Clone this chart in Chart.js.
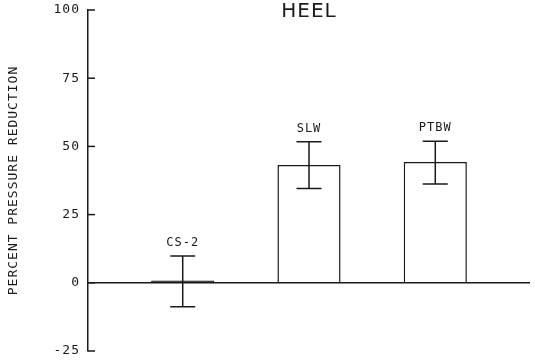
<!DOCTYPE html>
<html lang="en">
<head>
    <meta charset="UTF-8">
    <title>Heel - Percent Pressure Reduction</title>
    <script src="https://cdn.jsdelivr.net/npm/chart.js"></script>
    <style>
        html, body { margin: 0; padding: 0; background: #fff; }
        #wrap { width: 535px; height: 362px; }
    </style>
</head>
<body>
    <div id="wrap"><canvas id="heelChart"></canvas></div>

    <script>
        // Data
        const chartTitle = 'HEEL';
        const categories = ['CS-2', 'SLW', 'PTBW'];
        const slots = [1, 2, 3];
        const means = [0.8, 43.2, 44.3];
        const errLow = [-8.8, 34.6, 36.2];
        const errHigh = [9.8, 51.7, 51.9];
        const yTicks = [-25, 0, 25, 50, 75, 100];

        const INK = '#1a1a1a';
        const MONO = '"DejaVu Sans Mono", monospace';

        // letter spacing so the mono font looks like the old plotter lettering
        const spacingPlugin = {
            id: 'spacing',
            beforeLayout(chart) { chart.ctx.letterSpacing = '1px'; },
            beforeDraw(chart) { chart.ctx.letterSpacing = '1px'; }
        };

        // inward tick marks on the y axis
        const innerTicks = {
            id: 'innerTicks',
            afterDraw(chart) {
                const ctx = chart.ctx;
                const y = chart.scales.y;
                const x0 = chart.chartArea.left;
                ctx.save();
                ctx.strokeStyle = INK;
                ctx.lineWidth = 1.5;
                yTicks.forEach(v => {
                    const py = y.getPixelForValue(v);
                    ctx.beginPath();
                    ctx.moveTo(x0, py);
                    ctx.lineTo(x0 + 7, py);
                    ctx.stroke();
                });
                ctx.restore();
            }
        };

        // error bars + category labels above them, plus the title
        const errorBars = {
            id: 'errorBars',
            afterDatasetsDraw(chart) {
                const ctx = chart.ctx;
                const xs = chart.scales.x;
                const ys = chart.scales.y;
                ctx.save();
                ctx.strokeStyle = INK;
                ctx.lineWidth = 1.5;
                ctx.fillStyle = INK;
                ctx.textAlign = 'center';
                ctx.textBaseline = 'middle';
                ctx.font = '12px ' + MONO;
                slots.forEach((s, i) => {
                    const px = xs.getPixelForValue(s);
                    const top = ys.getPixelForValue(errHigh[i]);
                    const bot = ys.getPixelForValue(errLow[i]);
                    const cap = 12.5;
                    ctx.beginPath();
                    ctx.moveTo(px, top);
                    ctx.lineTo(px, bot);
                    ctx.moveTo(px - cap, top);
                    ctx.lineTo(px + cap, top);
                    ctx.moveTo(px - cap, bot);
                    ctx.lineTo(px + cap, bot);
                    ctx.stroke();
                    ctx.fillText(categories[i], px, top - 13);
                });

                const area = chart.chartArea;
                ctx.font = '20px "DejaVu Sans", sans-serif';
                ctx.fillText(chartTitle, (area.left + area.right) / 2, 12);
                ctx.restore();
            }
        };

        const ctx = document.getElementById('heelChart').getContext('2d');
        new Chart(ctx, {
            type: 'bar',
            data: {
                datasets: [{
                    data: slots.map((s, i) => ({ x: s, y: means[i] })),
                    // near-zero bar shows as a solid thick line, like the plot
                    backgroundColor: c => Math.abs(means[c.dataIndex]) < 2 ? INK : '#ffffff',
                    borderColor: INK,
                    borderWidth: 1.5,
                    categoryPercentage: 0.5,
                    barPercentage: 1.0
                }]
            },
            options: {
                responsive: true,
                maintainAspectRatio: false,
                animation: false,
                layout: { padding: { top: 10, right: 5, bottom: 11, left: 0 } },
                plugins: {
                    legend: { display: false },
                    tooltip: { enabled: false }
                },
                scales: {
                    x: {
                        type: 'linear',
                        min: 0.25,
                        max: 3.75,
                        offset: false,
                        display: false,
                        afterBuildTicks(scale) {
                            scale.ticks = slots.map(v => ({ value: v }));
                        }
                    },
                    y: {
                        min: -25,
                        max: 100,
                        afterFit(scale) {
                            scale.width = 88;
                            scale.paddingTop = 0;
                            scale.paddingBottom = 0;
                        },
                        afterBuildTicks(scale) {
                            scale.ticks = yTicks.map(v => ({ value: v }));
                        },
                        ticks: {
                            color: INK,
                            padding: 8,
                            font: { family: MONO, size: 13 }
                        },
                        grid: {
                            drawTicks: false,
                            lineWidth: 1.5,
                            color: c => c.tick && c.tick.value === 0 ? INK : 'rgba(0,0,0,0)'
                        },
                        border: { display: true, color: INK, width: 1.5 },
                        title: {
                            display: true,
                            text: 'PERCENT PRESSURE REDUCTION',
                            color: INK,
                            padding: { top: 6, bottom: 0 },
                            font: { family: MONO, size: 13 }
                        }
                    }
                }
            },
            plugins: [spacingPlugin, innerTicks, errorBars]
        });
    </script>
</body>
</html>
